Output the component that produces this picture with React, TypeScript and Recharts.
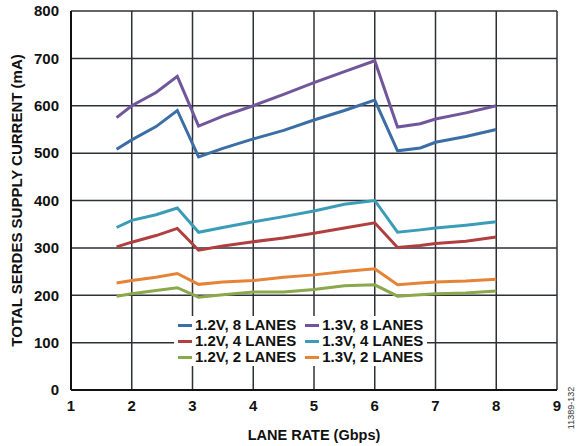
import React from "react";
import {
  LineChart,
  Line,
  XAxis,
  YAxis,
  CartesianGrid,
  Label,
} from "recharts";

// lane rate in Gbps
const laneRate = [1.75, 2, 2.4, 2.75, 3.1, 3.5, 4, 4.5, 5, 5.5, 6, 6.375, 6.75, 7, 7.5, 8];

// total supply current (mA)
const v12Lanes8 = [508, 528, 556, 590, 492, 510, 530, 548, 570, 590, 612, 505, 511, 523, 535, 550];
const v13Lanes8 = [575, 600, 628, 662, 557, 578, 600, 624, 649, 672, 695, 555, 562, 572, 585, 600];
const v12Lanes4 = [302, 312, 326, 341, 295, 304, 313, 321, 331, 342, 353, 301, 305, 309, 314, 323];
const v13Lanes4 = [343, 358, 370, 384, 333, 343, 355, 366, 378, 392, 400, 333, 338, 342, 348, 355];
const v12Lanes2 = [198, 203, 210, 216, 196, 201, 207, 207, 212, 220, 222, 198, 201, 203, 205, 209];
const v13Lanes2 = [226, 231, 238, 246, 223, 228, 231, 238, 243, 250, 256, 222, 226, 228, 230, 234];

const xTicks = [1, 2, 3, 4, 5, 6, 7, 8, 9];
const yTicks = [0, 100, 200, 300, 400, 500, 600, 700, 800];

const SERIES = [
  { key: "v12_8", name: "1.2V, 8 LANES", color: "#3b6ea5", values: v12Lanes8 },
  { key: "v12_4", name: "1.2V, 4 LANES", color: "#b13f3f", values: v12Lanes4 },
  { key: "v12_2", name: "1.2V, 2 LANES", color: "#8ba84c", values: v12Lanes2 },
  { key: "v13_8", name: "1.3V, 8 LANES", color: "#70569b", values: v13Lanes8 },
  { key: "v13_4", name: "1.3V, 4 LANES", color: "#3a9cb6", values: v13Lanes4 },
  { key: "v13_2", name: "1.3V, 2 LANES", color: "#e58337", values: v13Lanes2 },
];

const data = laneRate.map((x, i) => {
  const row: Record<string, number> = { x };
  SERIES.forEach((s) => (row[s.key] = s.values[i]));
  return row;
});

const FONT = "'Liberation Sans', Arial, sans-serif";
const TICK_STYLE = { fill: "#111", fontSize: 15, fontWeight: "bold", fontFamily: FONT };
const GRID = "#2e3038";

function LegendBox() {
  return (
    <div
      style={{
        position: "absolute",
        left: 174,
        top: 316,
        background: "#fff",
        display: "grid",
        gridTemplateColumns: "auto auto",
        gridAutoFlow: "column",
        gridTemplateRows: "repeat(3, 16px)",
        columnGap: 9,
        padding: "1px 4px",
        fontFamily: FONT,
        fontWeight: "bold",
        fontSize: 15,
        color: "#111",
      }}
    >
      {SERIES.map((s) => (
        <div key={s.key} style={{ display: "flex", alignItems: "center", lineHeight: "16px", whiteSpace: "nowrap" }}>
          <span style={{ display: "inline-block", width: 14, height: 3, background: s.color, marginRight: 3 }} />
          {s.name}
        </div>
      ))}
    </div>
  );
}

export default function App() {
  return (
    <div style={{ position: "relative", width: 581, height: 446 }}>
      <style>{"body{margin:0}"}</style>
      <LineChart
        width={581}
        height={446}
        data={data}
        margin={{ top: 11, right: 24, left: 26, bottom: 26 }}
      >
        <CartesianGrid stroke={GRID} strokeWidth={1.5} />
        <XAxis
          dataKey="x"
          type="number"
          domain={[1, 9]}
          ticks={xTicks}
          tickLine={false}
          axisLine={{ stroke: "#111", strokeWidth: 2 }}
          height={30}
          tick={TICK_STYLE}
          tickMargin={4}
        >
          <Label
            value="LANE RATE (Gbps)"
            position="insideBottom"
            offset={-20}
            style={{ fill: "#111", fontSize: 14.5, fontWeight: "bold", fontFamily: FONT }}
          />
        </XAxis>
        <YAxis
          type="number"
          domain={[0, 800]}
          ticks={yTicks}
          tickLine={false}
          axisLine={{ stroke: "#111", strokeWidth: 2 }}
          width={45}
          tick={TICK_STYLE}
          tickMargin={6}
        >
          <Label
            value="TOTAL SERDES SUPPLY CURRENT (mA)"
            angle={-90}
            position="insideLeft"
            offset={-9}
            style={{ textAnchor: "middle", fill: "#111", fontSize: 15, fontWeight: "bold", fontFamily: FONT }}
          />
        </YAxis>
        {SERIES.map((s) => (
          <Line
            key={s.key}
            dataKey={s.key}
            name={s.name}
            stroke={s.color}
            strokeWidth={3}
            dot={false}
            type="linear"
            isAnimationActive={false}
          />
        ))}
      </LineChart>
      <LegendBox />
      <div
        style={{
          position: "absolute",
          left: 571,
          top: 408,
          transform: "translate(-50%, -50%) rotate(-90deg)",
          fontFamily: FONT,
          fontSize: 9,
          color: "#333",
          whiteSpace: "nowrap",
        }}
      >
        11389-132
      </div>
    </div>
  );
}
